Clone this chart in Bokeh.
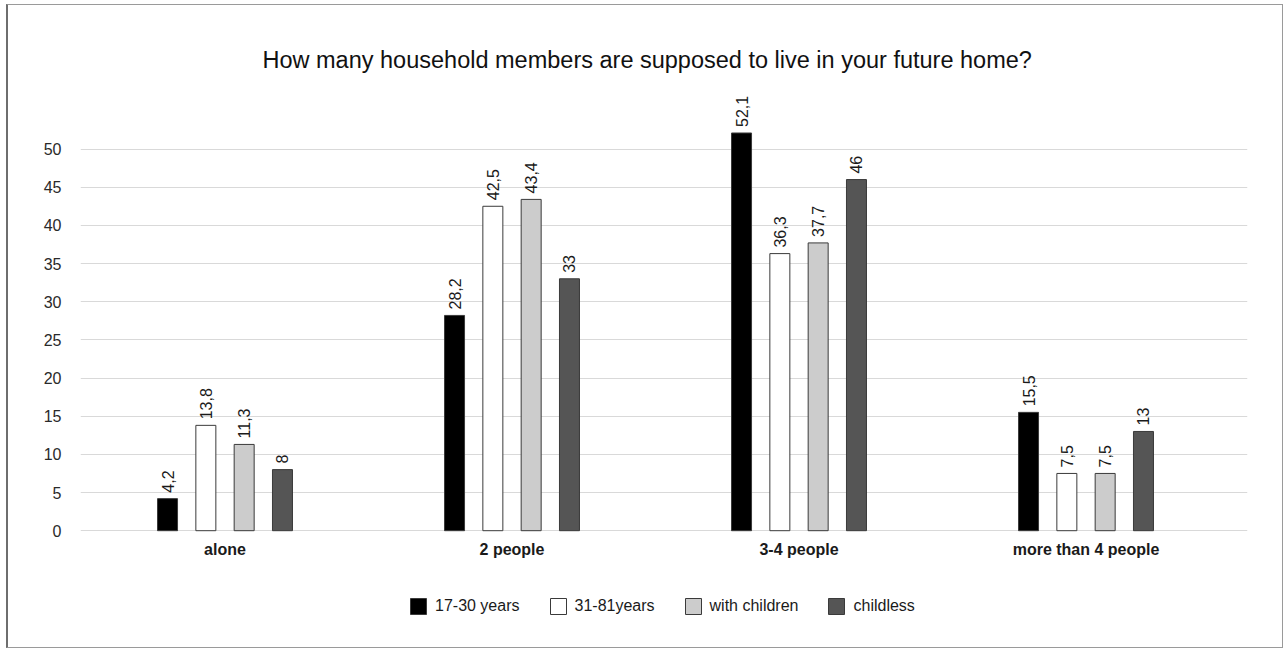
import numpy as np
from bokeh.plotting import figure
from bokeh.models import Range1d, FixedTicker, ColumnDataSource, Legend, LegendItem, InlineStyleSheet
from bokeh.core.properties import value
from bokeh.embed import file_html
from bokeh.resources import INLINE

# ---- data ----
categories = ["alone", "2 people", "3-4 people", "more than 4 people"]
series_names = ["17-30 years", "31-81years", "with children", "childless"]
age_17_30 = [4.2, 28.2, 52.1, 15.5]
age_31_81 = [13.8, 42.5, 36.3, 7.5]
with_children = [11.3, 43.4, 37.7, 7.5]
childless = [8, 33, 46, 13]
y_ticks = [0, 5, 10, 15, 20, 25, 30, 35, 40, 45, 50]
title_text = "How many household members are supposed to live in your future home?"

series_values = [age_17_30, age_31_81, with_children, childless]
fills = ["#000000", "#ffffff", "#cccccc", "#555555"]

FONT = "Liberation Sans"

def fmt(v):
    return ("%g" % v).replace(".", ",")

# frame spans 76..645 px vertically; value 0 sits at ~530 px
p = figure(width=1285, height=649, output_backend="svg", toolbar_location=None,
           x_range=Range1d(-0.5035, 3.5627), y_range=Range1d(-15.04, 59.5),
           min_border_left=80, min_border_right=38, min_border_top=76, min_border_bottom=4)

p.title.text = title_text
p.title.text_font = FONT
p.title.text_font_size = "23.5px"
p.title.text_font_style = "normal"
p.title.text_color = "#111111"
p.title.align = "left"
p.title.offset = 182
p.title.standoff = 7

cat_pos = list(range(len(categories)))
step = 0.1335
bw = 0.0697
offsets = [-1.5, -0.5, 0.5, 1.5]

items = []
for name, vals, fc, off in zip(series_names, series_values, fills, offsets):
    xs = [c + off * step for c in cat_pos]
    src = ColumnDataSource(dict(x=xs, top=vals, lab=[fmt(v) for v in vals]))
    r = p.vbar(x="x", top="top", bottom=0, width=bw, source=src, fill_color=fc,
               line_color="#3a3a3a", line_width=1)
    items.append(LegendItem(label=name, renderers=[r]))
    p.text(x="x", y="top", text="lab", source=src, angle=np.pi / 2,
           text_align="left", text_baseline="middle", y_offset=-6,
           text_font=value(FONT), text_font_size="16px", text_color="#1a1a1a")

# x axis fixed at value 0 inside the frame
p.xaxis.fixed_location = 0
p.xaxis.ticker = FixedTicker(ticks=cat_pos)
p.xaxis.major_label_overrides = {i: c for i, c in enumerate(categories)}
p.xaxis.major_label_text_font = FONT
p.xaxis.major_label_text_font_size = "16px"
p.xaxis.major_label_text_font_style = "bold"
p.xaxis.major_label_text_color = "#1a1a1a"
p.xaxis.axis_line_color = None
p.xaxis.major_tick_line_color = None
p.xaxis.minor_tick_line_color = None
p.xaxis.major_label_standoff = 4

p.yaxis.ticker = FixedTicker(ticks=y_ticks)
p.yaxis.major_label_text_font = FONT
p.yaxis.major_label_text_font_size = "16px"
p.yaxis.major_label_text_color = "#2a2a2a"
p.yaxis.axis_line_color = None
p.yaxis.major_tick_line_color = None
p.yaxis.minor_tick_line_color = None
p.yaxis.major_label_standoff = 13

p.xgrid.grid_line_color = None
p.ygrid.grid_line_color = "#d9d9d9"
p.ygrid.grid_line_width = 1
p.outline_line_color = None
p.background_fill_color = "white"
p.border_fill_color = "white"

# legend (screen px from the frame's bottom-left)
leg = Legend(items=items, orientation="horizontal", location=(328, 29),
             label_text_font=FONT, label_text_font_size="16px", label_text_color="#1a1a1a",
             glyph_width=20, glyph_height=20, label_standoff=7, spacing=28,
             margin=0, padding=10, border_line_color=None, background_fill_alpha=0)
p.add_layout(leg, "center")

p.stylesheets = [InlineStyleSheet(css="""
:host::after { content: ""; position: absolute; left: 6px; top: 4px; right: 2px; bottom: 1px;
  border: 1px solid #9a9a9a; border-left: 2px solid #6e6e6e; pointer-events: none; z-index: 10; }
""")]

open("out.html", "w").write(file_html(p, INLINE))
